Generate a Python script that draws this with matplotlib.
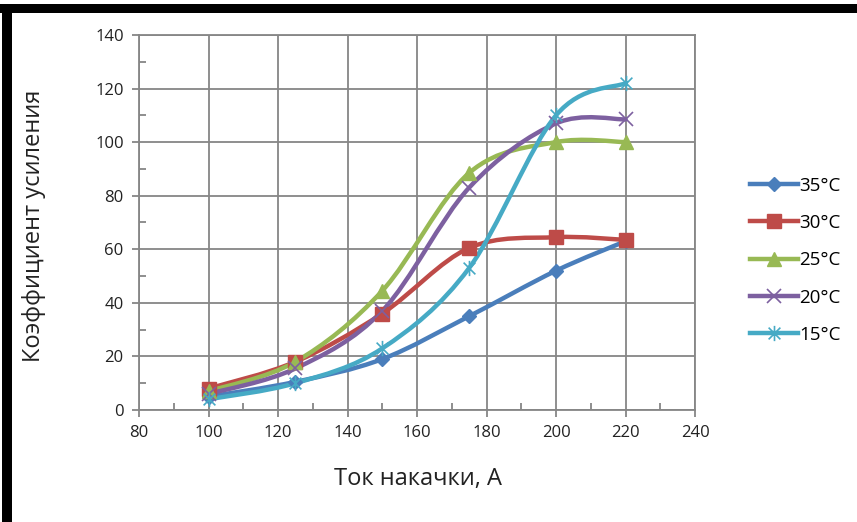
import numpy as np
import matplotlib
matplotlib.use("Agg")
import matplotlib.pyplot as plt
from matplotlib.path import Path
from matplotlib.patches import PathPatch, Rectangle
from matplotlib.lines import Line2D
from matplotlib.ticker import MultipleLocator

plt.rcParams['font.family'] = ['Open Sans', 'DejaVu Sans']

current = [100, 125, 150, 175, 200, 220]
labels = ["35°C", "30°C", "25°C", "20°C", "15°C"]
gain_35 = [5, 10.5, 19, 35, 52, 63]
gain_30 = [8, 18, 36, 60.5, 64.5, 63.5]
gain_25 = [7, 18, 44.5, 88.5, 100, 100]
gain_20 = [6, 15.5, 37, 83, 107, 108.5]
gain_15 = [4, 10, 23, 53, 110, 122]
series = [gain_35, gain_30, gain_25, gain_20, gain_15]

colors = ["#4A7EBB", "#BE4B48", "#98B954", "#7D60A0", "#46AAC5"]

# excel-like star marker: X plus vertical bar
star = Path([(-1, -1), (1, 1), (-1, 1), (1, -1), (0, -1.3), (0, 1.3)],
            [Path.MOVETO, Path.LINETO, Path.MOVETO, Path.LINETO, Path.MOVETO, Path.LINETO])
markers = ["D", "s", "^", "x", star]
msizes = [7, 10, 10, 10, 11]


def smooth_path(x, y):
    # catmull-rom -> cubic bezier, like excel "smoothed line"
    p = np.column_stack([x, y]).astype(float)
    n = len(p)
    verts = [p[0]]
    codes = [Path.MOVETO]
    for i in range(n - 1):
        p0 = p[i - 1] if i > 0 else p[i]
        p3 = p[i + 2] if i + 2 < n else p[i + 1]
        c1 = p[i] + (p[i + 1] - p0) / 6
        c2 = p[i + 1] - (p3 - p[i]) / 6
        verts += [c1, c2, p[i + 1]]
        codes += [Path.CURVE4] * 3
    return Path(verts, codes)


fig = plt.figure(figsize=(8.57, 5.22), dpi=100)
ax = fig.add_axes([0.1622, 0.2146, 0.6488, 0.7184])

grid_c = "#868686"
for gx in range(80, 241, 20):
    ax.axvline(gx, color=grid_c, lw=1.3, zorder=1)
for gy in range(0, 141, 20):
    ax.axhline(gy, color=grid_c, lw=1.3, zorder=1)

handles = []
for vals, lab, c, m, ms in zip(series, labels, colors, markers, msizes):
    ax.add_patch(PathPatch(smooth_path(current, vals), fill=False, edgecolor=c,
                           lw=3.2, capstyle='round', joinstyle='round', zorder=3))
    if m in ("x", star):
        ax.plot(current, vals, linestyle='none', marker=m, ms=ms, mec=c, mew=1.2, zorder=4)
        h = Line2D([], [], color=c, lw=3.2, marker=m, ms=ms, mec=c, mew=1.2)
    else:
        ax.plot(current, vals, linestyle='none', marker=m, ms=ms, mfc=c, mec=c, zorder=4)
        h = Line2D([], [], color=c, lw=3.2, marker=m, ms=ms, mfc=c, mec=c)
    handles.append(h)

ax.set_xlim(80, 240)
ax.set_ylim(0, 140)
ax.xaxis.set_major_locator(MultipleLocator(20))
ax.yaxis.set_major_locator(MultipleLocator(20))
ax.xaxis.set_minor_locator(MultipleLocator(10))
ax.yaxis.set_minor_locator(MultipleLocator(10))
for s in ax.spines.values():
    s.set_color(grid_c)
    s.set_linewidth(1.3)
ax.tick_params(which='major', direction='out', length=5, color=grid_c, width=1.3,
               labelsize=12, labelcolor="#222222", pad=6)
ax.tick_params(which='minor', direction='in', length=5, color=grid_c, width=1.3)

ax.set_xlabel("Ток накачки, А", fontsize=17, color="#222222")
ax.set_ylabel("Коэффициент усиления", fontsize=17, color="#222222")
ax.xaxis.set_label_coords(0.502, -0.152)
ax.yaxis.set_label_coords(-0.168, 0.49)

fig.legend(handles=handles, labels=labels, loc='upper left',
           bbox_to_anchor=(0.855, 0.694), frameon=False, fontsize=13.5,
           handlelength=2.6, handletextpad=0.05, labelspacing=1.03)

# black frame of the screenshot (top and left)
fig.add_artist(Rectangle((0, 1 - 13 / 522), 1, 9 / 522, transform=fig.transFigure,
                         color="black", lw=0))
fig.add_artist(Rectangle((2 / 857, 0), 10 / 857, 1 - 4 / 522, transform=fig.transFigure,
                         color="black", lw=0))

fig.savefig("out.png", dpi=100)
